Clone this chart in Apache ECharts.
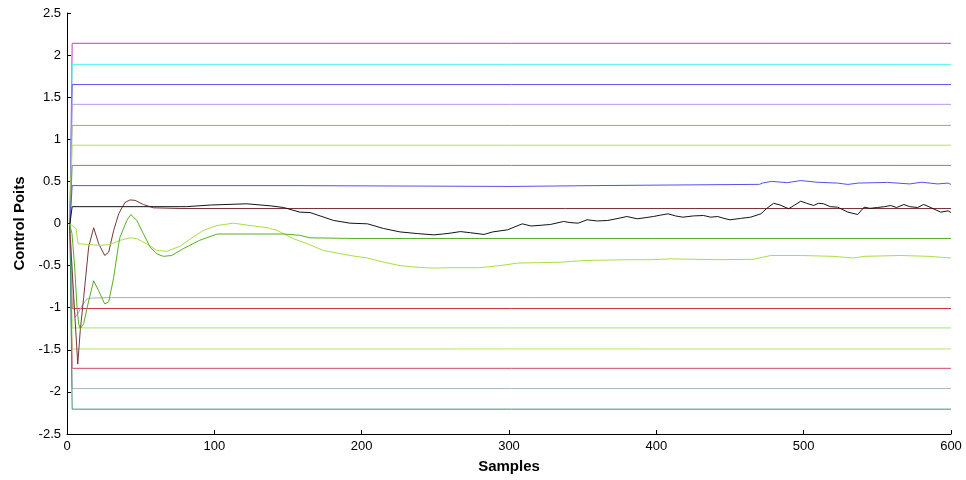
<!DOCTYPE html>
<html>
<head>
<meta charset="utf-8">
<script src="https://cdn.jsdelivr.net/npm/echarts@6/dist/echarts.min.js"></script>
<style>
html, body {margin: 0; padding: 0; background: #fff;}
#plot {width: 966px; height: 480px;}
</style>
</head>
<body>
<div id="plot"></div>
<script>
// flat control points (they jump from 0 to their level in the first samples)
var levels = [2.14, 1.89, 1.65, 1.415, 1.165, 0.93, 0.69, -1.01, -1.24, -1.49, -1.72, -1.96, -2.205];
var levelColors = ['#c040c8', '#50f5f2', '#6050f0', '#b898f0', '#98b060', '#b8e048', '#609878',
    '#d03048', '#98e870', '#b8e860', '#d84860', '#a8b8c8', '#409070'];

// moving control points as [sample, value]
var blueLine = [[0, 0], [2, 0], [3.5, 0.45], [157, 0.45], [158, 0.44], [302, 0.44], [303, 0.45], [357, 0.45],
    [358, 0.465], [470, 0.465], [472, 0.48], [478, 0.5], [489, 0.485], [498, 0.51], [509, 0.49], [523, 0.48],
    [530, 0.464], [537, 0.48], [557, 0.488], [572, 0.47], [580, 0.49], [591, 0.47], [598, 0.48], [600, 0.464]];

var blackLine = [[0, 0], [2, 0], [3.5, 0.2], [81, 0.2], [81.5, 0.22], [98, 0.22], [98.5, 0.234], [122, 0.234],
    [138, 0.21], [147, 0.19], [158, 0.135], [165, 0.13], [181, 0.036], [192, 0.004], [204, -0.004], [215, -0.06],
    [226, -0.10], [238, -0.12], [249, -0.135], [255, -0.125], [260, -0.115], [267, -0.096], [274, -0.11], [283, -0.13],
    [289, -0.10], [299, -0.075], [309, -0.004], [315, -0.03], [328, -0.012], [337, 0.024], [342, 0.01], [347, 0.004],
    [353, 0.044], [360, 0.03], [367, 0.036], [374, 0.06], [380, 0.083], [387, 0.056], [393, 0.07], [398, 0.083],
    [403, 0.1], [408, 0.115], [413, 0.09], [418, 0.075], [425, 0.09], [432, 0.095], [437, 0.075], [441.6, 0.083],
    [446, 0.06], [450, 0.044], [457, 0.06], [464, 0.075], [471, 0.115], [475, 0.18], [479.6, 0.24], [484, 0.22],
    [489.8, 0.175], [494, 0.22], [498, 0.265], [502, 0.24], [506.8, 0.214], [510, 0.24], [513.6, 0.234], [518, 0.2],
    [523, 0.194], [530, 0.135], [536.7, 0.107], [541, 0.194], [545, 0.18], [550, 0.19], [555, 0.2], [559, 0.214],
    [563, 0.19], [568, 0.226], [572, 0.2], [577.4, 0.19], [581.5, 0.226], [585, 0.2], [588, 0.175], [593, 0.135],
    [598, 0.15], [600, 0.13]];

var maroonLine = [[0, 0], [1.6, 0], [7.3, -1.67], [9, -1.27], [11.3, -0.88], [14.7, -0.28], [18.1, -0.05],
    [21.5, -0.24], [25.6, -0.38], [28.3, -0.34], [31.7, -0.08], [35.1, 0.115], [37.4, 0.19], [39.4, 0.25],
    [42.8, 0.28], [46.2, 0.275], [51.8, 0.226], [58.6, 0.186], [76.8, 0.178], [600, 0.178]];

var greenLine = [[0, 0], [1.6, 0], [3.4, -0.12], [5.2, -0.52], [6.8, -1.0], [7.9, -1.19], [9, -1.25],
    [11.3, -1.19], [14.7, -0.92], [18.1, -0.68], [21.5, -0.80], [25.6, -0.955], [28.3, -0.93], [31.7, -0.64],
    [35.1, -0.24], [36, -0.16], [40.6, 0.036], [43.3, 0.107], [47.4, 0.036], [51.8, -0.12], [56.4, -0.28],
    [60.9, -0.36], [65.4, -0.39], [71.1, -0.38], [78.8, -0.30], [90, -0.2], [102, -0.125], [147, -0.125],
    [158, -0.14], [165, -0.17], [196, -0.178], [600, -0.178]];

var limeLine = [[0, 0], [1.6, 0], [4.5, -0.036], [6.1, -0.06], [7.5, -0.24], [8, -0.26], [22.4, -0.26],
    [29.2, -0.25], [36, -0.2], [42.8, -0.17], [47.4, -0.18], [54, -0.24], [60.9, -0.32], [67.7, -0.33],
    [76.8, -0.27], [84, -0.18], [92.4, -0.083], [101.9, -0.024], [113, 0.004], [124.3, -0.024], [136, -0.05],
    [142.7, -0.083], [153.6, -0.18], [163, -0.24], [174, -0.32], [192, -0.38], [204, -0.41], [215, -0.46],
    [226, -0.50], [238, -0.52], [249, -0.53], [260, -0.525], [280, -0.525], [294, -0.50], [306, -0.47],
    [335, -0.46], [351, -0.44], [380, -0.43], [396, -0.43], [410, -0.42], [441.6, -0.43], [466, -0.425],
    [477.6, -0.38], [498, -0.38], [520, -0.39], [534, -0.41], [541, -0.39], [566, -0.38], [585, -0.39], [600, -0.41]];

var greyLine = [[0, 0], [2, 0], [4.6, -1.0], [5.6, -1.11], [7.5, -1.07], [10.2, -0.975], [13.6, -0.895],
    [17, -0.885], [30, -0.88], [600, -0.88]];

var xTicks = {min: 0, max: 600, step: 100};
var yTicks = {min: -2.5, max: 2.5, step: 0.5};

var plot = echarts.init(document.getElementById('plot'), null, {renderer: 'canvas'});

var series = [];
function addLine(data, color) {
    series.push({
        type: 'line',
        data: data,
        symbol: 'none',
        silent: true,
        lineStyle: {color: color, width: 1},
        itemStyle: {color: color}
    });
}
levels.forEach(function (v, i) {
    addLine([[0, 0], [2, 0], [3.5, v], [600, v]], levelColors[i]);
});
addLine(greyLine, '#b8a8b8');
addLine(blueLine, '#5850f0');
addLine(maroonLine, '#783838');
addLine(limeLine, '#a8e040');
addLine(greenLine, '#58b020');
addLine(blackLine, '#141414');

var axisText = {color: '#000', fontFamily: 'Liberation Sans, Arial', fontSize: 13};
var nameText = {color: '#000', fontFamily: 'Liberation Sans, Arial', fontSize: 15, fontWeight: 'bold'};

plot.setOption({
    animation: false,
    backgroundColor: '#fff',
    grid: {left: 67, right: 15, top: 13, bottom: 46},
    xAxis: {
        type: 'value',
        min: xTicks.min, max: xTicks.max, interval: xTicks.step,
        name: 'Samples',
        nameLocation: 'middle',
        nameGap: 25,
        nameTextStyle: nameText,
        axisLine: {onZero: false, lineStyle: {color: '#000', width: 1}},
        axisTick: {inside: true, length: 4, lineStyle: {color: '#000'}},
        axisLabel: Object.assign({margin: 6}, axisText),
        splitLine: {show: false}
    },
    yAxis: {
        type: 'value',
        min: yTicks.min, max: yTicks.max, interval: yTicks.step,
        name: 'Control Poits',
        nameLocation: 'middle',
        nameGap: 32,
        nameTextStyle: nameText,
        axisLine: {show: true, onZero: false, lineStyle: {color: '#000', width: 1}},
        axisTick: {show: true, inside: true, length: 4, lineStyle: {color: '#000'}},
        axisLabel: Object.assign({margin: 6}, axisText),
        splitLine: {show: false}
    },
    series: series
});
</script>
</body>
</html>
